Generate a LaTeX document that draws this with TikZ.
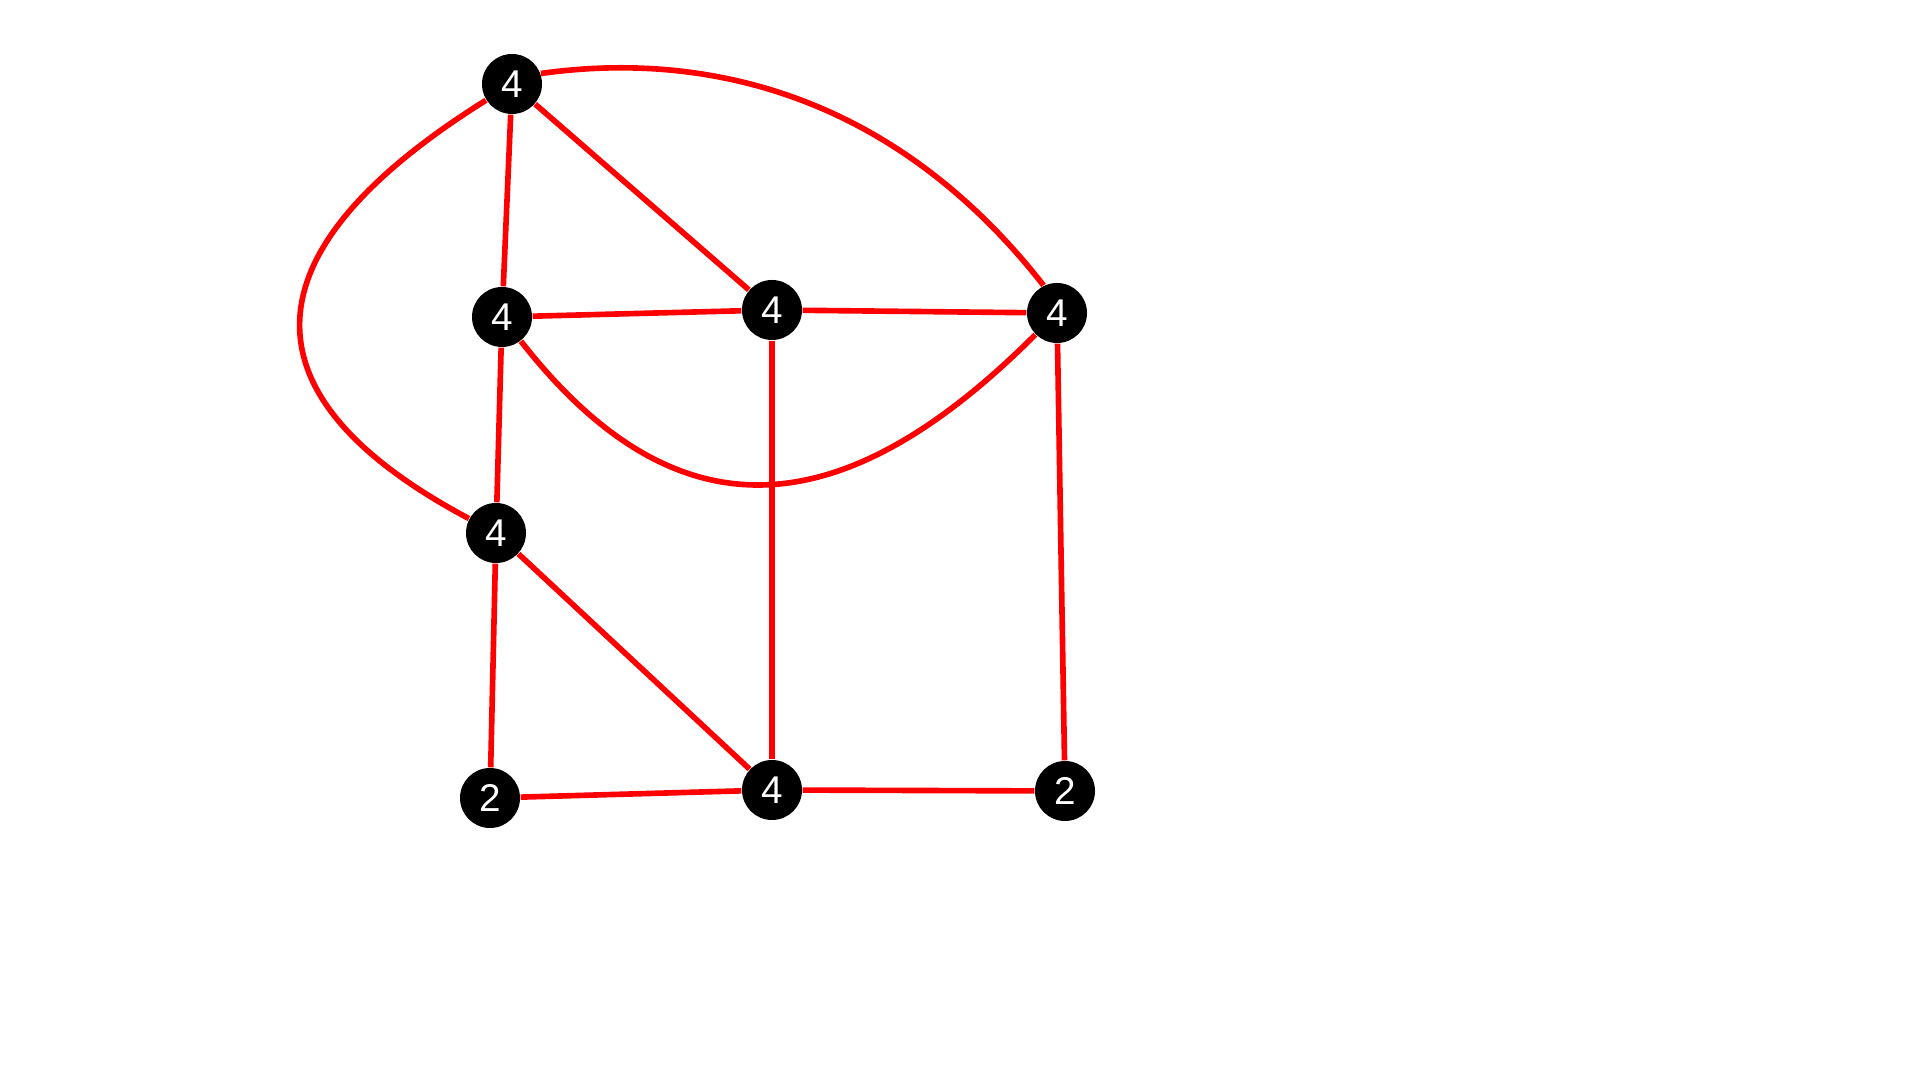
\documentclass[tikz,border=0pt]{standalone}
\usepackage{fontspec}
\setmainfont{Liberation Sans}

\begin{document}
\begin{tikzpicture}[
  vtx/.style={circle, fill=black, text=white, inner sep=0pt, minimum size=6mm,
              font=\fontsize{11}{13}\selectfont},
  edge/.style={draw=red, line width=1.6pt}
]
\useasboundingbox (0,0) rectangle (19.2,10.8);

\node[vtx] (top)   at (5.12,9.96) {4};
\node[vtx] (midl)  at (5.02,7.63) {4};
\node[vtx] (ctr)   at (7.72,7.70) {4};
\node[vtx] (rgt)   at (10.57,7.67) {4};
\node[vtx] (low)   at (4.96,5.47) {4};
\node[vtx] (botl)  at (4.90,2.82) {2};
\node[vtx] (botc)  at (7.72,2.90) {4};
\node[vtx] (botr)  at (10.65,2.89) {2};

\foreach \a/\b in {top/midl, top/ctr, midl/ctr, ctr/rgt, midl/low, ctr/botc,
                   rgt/botr, low/botl, low/botc, botl/botc, botc/botr}
  \draw[edge] (\a) -- (\b);

% the three bent edges
\draw[edge] (top.20) .. controls +(8:1.7) and +(128:2.4) .. (rgt.116);
\draw[edge] (top) to[out=212, in=152, out looseness=1.8, in looseness=1.55] (low);
\draw[edge] (midl) to[out=-52, in=225, looseness=1.3] (rgt);

\end{tikzpicture}
\end{document}
